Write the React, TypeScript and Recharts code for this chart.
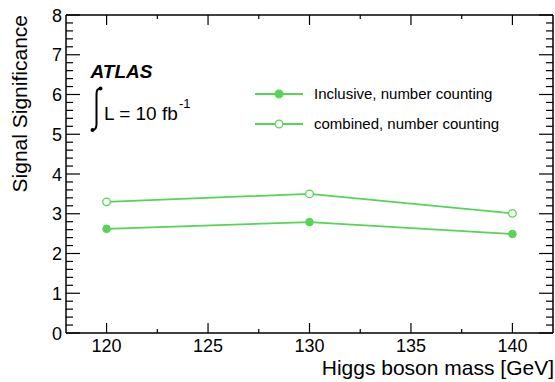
import React from 'react';
import { LineChart, Line, XAxis, YAxis, Legend, Customized, ReferenceLine } from 'recharts';

const masses = [120, 130, 140];
const inclusiveSig = [2.62, 2.79, 2.49];
const combinedSig = [3.3, 3.5, 3.01];
const seriesNames = ['Inclusive, number counting', 'combined, number counting'];
const xMajorTicks = [120, 125, 130, 135, 140];
const xMinorTicks = [122.5, 127.5, 132.5, 137.5];
const yMajorTicks = [0, 1, 2, 3, 4, 5, 6, 7, 8];
const yMinorSteps = [0.2, 0.4, 0.6, 0.8];

const X_DOMAIN: [number, number] = [118, 142];
const Y_DOMAIN: [number, number] = [0, 8];

const data = masses.map((m, i) => ({ mass: m, inclusive: inclusiveSig[i], combined: combinedSig[i] }));
const yMinorTicks = yMajorTicks.slice(0, -1).flatMap((v) => yMinorSteps.map((s) => v + s));

const CHART_W = 555;
const CHART_H = 382;
const LEFT_W = 66;
const RIGHT_W = 2;
const TOP_H = 15;
const BOTTOM_H = 49;
const PLOT_W = CHART_W - LEFT_W - RIGHT_W;
const PLOT_H = CHART_H - TOP_H - BOTTOM_H;
// pixel lengths of tick marks converted to data units
const pxToX = (px: number) => (px * (X_DOMAIN[1] - X_DOMAIN[0])) / PLOT_W;
const pxToY = (px: number) => (px * (Y_DOMAIN[1] - Y_DOMAIN[0])) / PLOT_H;

const GREEN = '#55d455';
const FONT = '"Liberation Sans", Arial, Helvetica, sans-serif';

const LeftLabel = (props: any) => (
  <text x={props.x - 4} y={props.y} dy={6.5} textAnchor="end" fontSize={18} fontFamily={FONT} fill="#000">
    {Math.round(props.payload.value)}
  </text>
);

const BottomLabel = (props: any) => (
  <text x={props.x} y={props.y + 19} textAnchor="middle" fontSize={18} fontFamily={FONT} fill="#000">
    {props.payload.value}
  </text>
);

const LegendContent = () => (
  <svg width={280} height={50} style={{ display: 'block', overflow: 'visible' }}>
    {seriesNames.map((name, i) => {
      const cy = 14 + i * 30;
      return (
        <g key={name}>
          <line x1={5} x2={53} y1={cy} y2={cy} stroke={GREEN} strokeWidth={1.8} />
          <circle cx={29} cy={cy} r={3.8} fill={i === 0 ? GREEN : '#fff'} stroke={GREEN} strokeWidth={1.3} />
          <text x={64} y={cy + 5} fontSize={15} fontFamily={FONT} fill="#000">
            {name}
          </text>
        </g>
      );
    })}
  </svg>
);

const Annotations = () => (
  <g fontFamily={FONT} fill="#000">
    <text x={90.5} y={78} fontSize={19} fontWeight="bold" fontStyle="italic">
      ATLAS
    </text>
    <path d="M 100 88.5 C 97.5 88.5 96.5 90 96.5 94 L 96.5 124 C 96.5 128 95.5 130 92.5 130" fill="none" stroke="#000" strokeWidth={2} />
    <circle cx={100.5} cy={88.5} r={2} fill="#000" />
    <circle cx={92.5} cy={130} r={2} fill="#000" />
    <text x={104} y={120} fontSize={19}>
      L = 10 fb
    </text>
    <text x={179} y={108} fontSize={13}>
      -1
    </text>
    <text x={27} y={15} fontSize={21} textAnchor="end" transform="rotate(-90 27 15)">
      Signal Significance
    </text>
    <text x={554} y={375} fontSize={21} textAnchor="end">
      Higgs boson mass [GeV]
    </text>
  </g>
);

const tickProps = { stroke: '#000', strokeWidth: 1.2, ifOverflow: 'visible' as const };

const yTickSegments = [
  ...yMajorTicks.map((v) => ({ v, len: 14 })),
  ...yMinorTicks.map((v) => ({ v, len: 7 })),
];
const xTickSegments = [
  ...xMajorTicks.map((v) => ({ v, len: 10 })),
  ...xMinorTicks.map((v) => ({ v, len: 4 })),
];

export default function App() {
  return (
    <div style={{ position: 'absolute', left: 0, top: 0 }}>
      <LineChart width={CHART_W} height={CHART_H} data={data} margin={{ top: 0, right: 0, bottom: 0, left: 0 }}>
        <XAxis
          dataKey="mass"
          type="number"
          domain={X_DOMAIN}
          ticks={xMajorTicks}
          interval={0}
          height={BOTTOM_H}
          tickSize={0}
          tickMargin={0}
          tickLine={false}
          stroke="#000"
          strokeWidth={1.5}
          tick={(p: any) => <BottomLabel {...p} />}
        />
        <XAxis
          xAxisId="top"
          orientation="top"
          type="number"
          domain={X_DOMAIN}
          ticks={xMajorTicks}
          interval={0}
          height={TOP_H}
          tickSize={-10}
          tickLine={{ stroke: '#000', strokeWidth: 1.2 }}
          tick={false}
          stroke="#000"
          strokeWidth={1.5}
        />
        <YAxis
          type="number"
          domain={Y_DOMAIN}
          ticks={yMajorTicks}
          interval={0}
          width={LEFT_W}
          tickSize={0}
          tickMargin={0}
          tickLine={false}
          stroke="#000"
          strokeWidth={1.5}
          tick={(p: any) => <LeftLabel {...p} />}
        />
        <YAxis
          yAxisId="right"
          orientation="right"
          type="number"
          domain={Y_DOMAIN}
          ticks={yMajorTicks}
          interval={0}
          width={RIGHT_W}
          tickSize={-14}
          tickLine={{ stroke: '#000', strokeWidth: 1.2 }}
          tick={false}
          stroke="#000"
          strokeWidth={1.5}
        />
        {yTickSegments.map(({ v, len }) => (
          <ReferenceLine
            key={`yl-${v}`}
            segment={[
              { x: X_DOMAIN[0], y: v },
              { x: X_DOMAIN[0] + pxToX(len), y: v },
            ]}
            {...tickProps}
          />
        ))}
        {yTickSegments.map(({ v, len }) => (
          <ReferenceLine
            key={`yr-${v}`}
            segment={[
              { x: X_DOMAIN[1] - pxToX(len), y: v },
              { x: X_DOMAIN[1], y: v },
            ]}
            {...tickProps}
          />
        ))}
        {xTickSegments.map(({ v, len }) => (
          <ReferenceLine
            key={`xb-${v}`}
            segment={[
              { x: v, y: Y_DOMAIN[0] },
              { x: v, y: Y_DOMAIN[0] + pxToY(len) },
            ]}
            {...tickProps}
          />
        ))}
        {xTickSegments.map(({ v, len }) => (
          <ReferenceLine
            key={`xt-${v}`}
            segment={[
              { x: v, y: Y_DOMAIN[1] - pxToY(len) },
              { x: v, y: Y_DOMAIN[1] },
            ]}
            {...tickProps}
          />
        ))}
        <Line
          dataKey="inclusive"
          name={seriesNames[0]}
          type="linear"
          stroke={GREEN}
          strokeWidth={1.8}
          dot={{ r: 3.8, fill: GREEN, stroke: GREEN, strokeWidth: 1 }}
          isAnimationActive={false}
        />
        <Line
          dataKey="combined"
          name={seriesNames[1]}
          type="linear"
          stroke={GREEN}
          strokeWidth={1.8}
          dot={{ r: 3.8, fill: '#fff', stroke: GREEN, strokeWidth: 1.3 }}
          isAnimationActive={false}
        />
        <Legend
          layout="vertical"
          align="center"
          verticalAlign="middle"
          wrapperStyle={{ left: 250, top: 80, width: 280, height: 50 }}
          content={() => <LegendContent />}
        />
        <Customized component={Annotations} />
      </LineChart>
    </div>
  );
}
